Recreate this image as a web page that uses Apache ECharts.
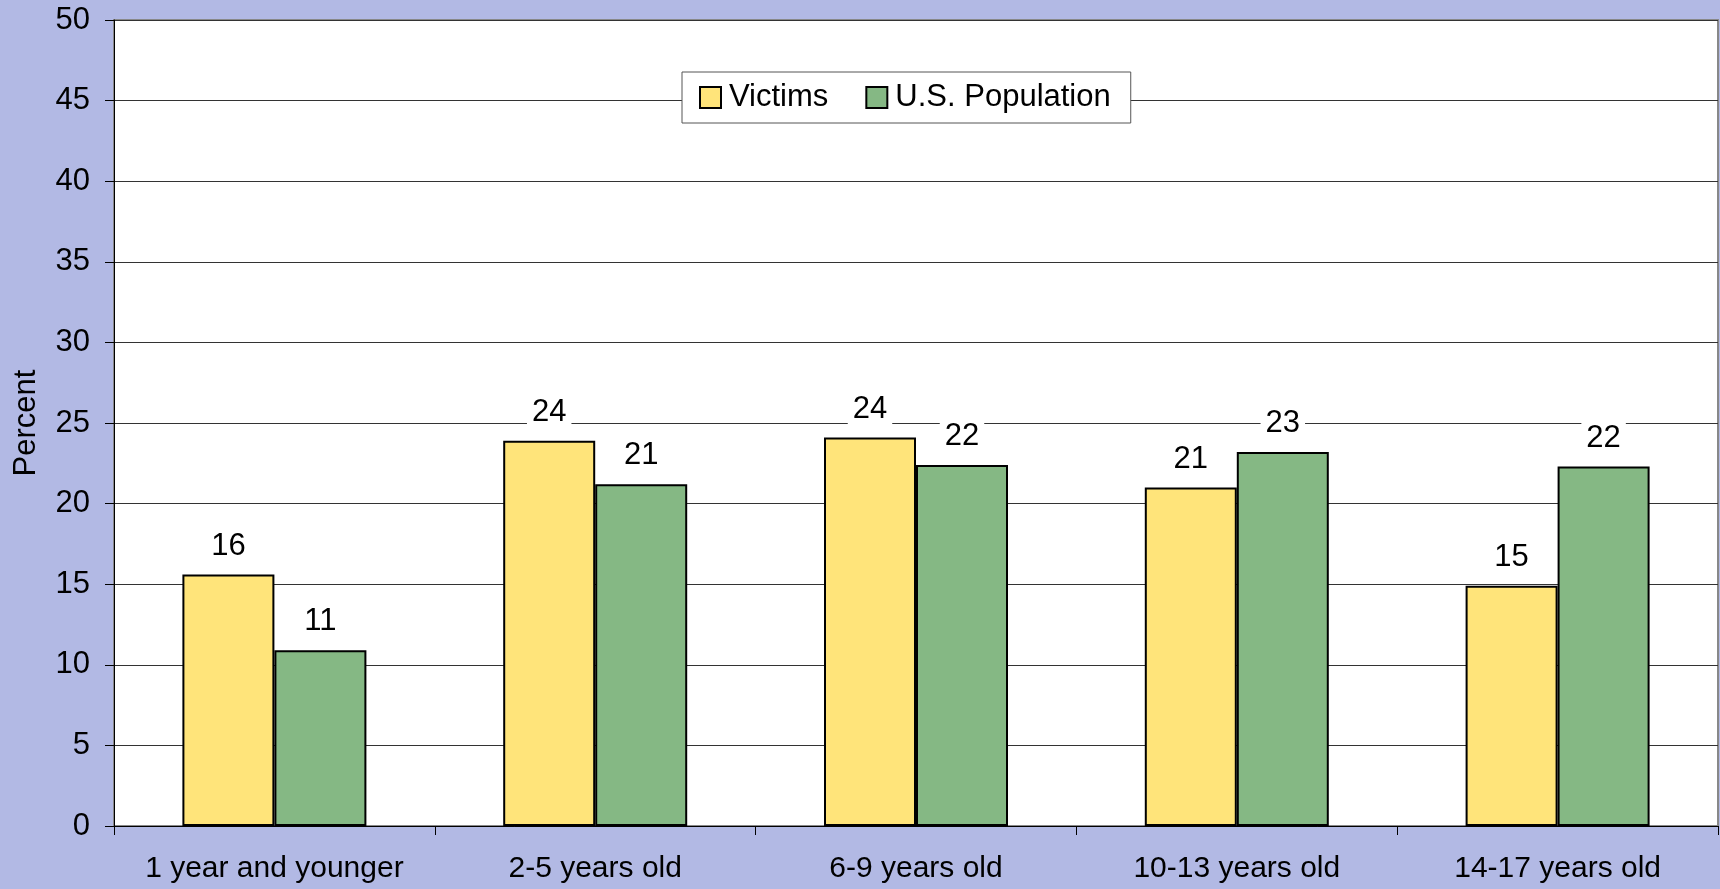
<!DOCTYPE html>
<html>
<head>
<meta charset="utf-8">
<script src="https://cdn.jsdelivr.net/npm/echarts@6/dist/echarts.min.js"></script>
<style>
    html, body { margin: 0; padding: 0; background: #b2b9e4; }
    #chart { width: 1720px; height: 889px; }
</style>
</head>
<body>
<div id="chart"></div>
<script>
// age groups
var categories = ['1 year and younger', '2-5 years old', '6-9 years old', '10-13 years old', '14-17 years old'];
// percent of victims
var victims = [15.6, 23.9, 24.1, 21.0, 14.9];
// percent of U.S. population
var usPopulation = [10.9, 21.2, 22.4, 23.2, 22.3];
var yTicks = [0, 5, 10, 15, 20, 25, 30, 35, 40, 45, 50];

var font = 'Liberation Sans, Arial, sans-serif';

var labelStyle = {
    show: true,
    position: 'top',
    distance: 13,
    color: '#000',
    fontSize: 31,
    fontFamily: font,
    backgroundColor: '#fff',
    padding: [0, 5],
    formatter: function (p) { return Math.round(p.value); }
};

var myChart = echarts.init(document.getElementById('chart'));
myChart.setOption({
    backgroundColor: '#b2b9e4',
    animation: false,
    textStyle: { fontFamily: font },
    grid: {
        left: 114, top: 20, right: 2, bottom: 63,
        outerBoundsMode: 'none',
        containLabel: false,
        show: true,
        backgroundColor: '#fff',
        borderColor: '#888',
        borderWidth: 2
    },
    legend: {
        left: 682,
        top: 72,
        data: ['Victims', 'U.S. Population'],
        backgroundColor: '#fff',
        borderColor: '#555',
        borderWidth: 1,
        padding: [10, 20, 10, 17],
        itemWidth: 21,
        itemHeight: 21,
        itemGap: 37,
        icon: 'rect',
        itemStyle: { borderColor: '#000', borderWidth: 2 },
        textStyle: { fontSize: 31, color: '#000', fontFamily: font, padding: [0, 0, 0, 3] }
    },
    xAxis: {
        type: 'category',
        data: categories,
        axisLine: { lineStyle: { color: '#000', width: 1 } },
        axisTick: { show: true, length: 9, lineStyle: { color: '#000' } },
        axisLabel: { color: '#000', fontSize: 30, margin: 28, fontFamily: font, interval: 0 }
    },
    yAxis: {
        type: 'value',
        min: yTicks[0],
        max: yTicks[yTicks.length - 1],
        interval: 5,
        name: 'Percent',
        nameLocation: 'middle',
        nameGap: 72,
        nameRotate: 90,
        nameTextStyle: { color: '#000', fontSize: 31, fontFamily: font },
        axisLine: { show: true, lineStyle: { color: '#000', width: 1 } },
        axisTick: { show: true, length: 9, lineStyle: { color: '#000' } },
        axisLabel: { color: '#000', fontSize: 31, margin: 24, fontFamily: font },
        splitLine: { show: true, lineStyle: { color: '#333', width: 1 } }
    },
    series: [
        {
            name: 'Victims',
            type: 'bar',
            data: victims,
            barWidth: 92,
            barGap: '0%',
            itemStyle: { color: '#ffe47a', borderColor: '#000', borderWidth: 2 },
            label: labelStyle
        },
        {
            name: 'U.S. Population',
            type: 'bar',
            data: usPopulation,
            barWidth: 92,
            barGap: '0%',
            itemStyle: { color: '#85b884', borderColor: '#000', borderWidth: 2 },
            label: labelStyle
        }
    ]
});
</script>
</body>
</html>
